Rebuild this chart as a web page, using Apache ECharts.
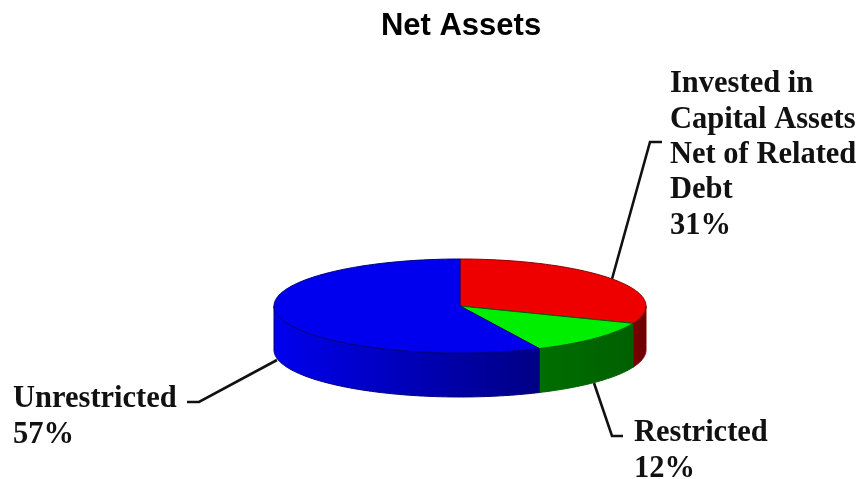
<!DOCTYPE html>
<html><head><meta charset="utf-8">
<style>html,body{margin:0;padding:0;background:#fff}#c{width:859px;height:479px}</style>
<script src="https://cdn.jsdelivr.net/npm/echarts@6/dist/echarts.min.js"></script>
</head><body><div id="c"></div>
<script>
const chartTitle = 'Net Assets';
const categories = ['Invested in\nCapital Assets\nNet of Related\nDebt', 'Restricted', 'Unrestricted'];
const shareValues = [31, 12, 57];

// styles and layout
const topColors = ['#ee0000', '#00ee00', '#0000ee'];
const sideStops = [['#7c0000', '#6a0000'], ['#006e00', '#006000'], ['#0000ee', '#000084']];
const edgeColors = ['#8a0000', '#006000', '#000080'];
const PIE = { cx: 460, cy: 306, rx: 186, ry: 47, depth: 44 };
const labelLayout = [
  { x: 670, base: 93, pitch: 35.3, leader: [[612, 279], [650, 142], [662, 142]] },
  { x: 634, base: 442, pitch: 36, leader: [[594, 383], [612, 436], [623, 436]] },
  { x: 13, base: 408, pitch: 35.5, leader: [[277, 360], [199, 402], [187, 402]] }
];

const total = shareValues.reduce((a, b) => a + b, 0);
const starts = [];
shareValues.reduce((acc, v, i) => { starts[i] = acc; return acc + v; }, 0);
const ang = v => v / total * Math.PI * 2;
const pt = (t, dy) => [PIE.cx + PIE.rx * Math.sin(t), PIE.cy - PIE.ry * Math.cos(t) + (dy || 0)];
function arc(a, b, dy) {
  const n = Math.max(2, Math.ceil((b - a) / 0.02)), out = [];
  for (let i = 0; i <= n; i++) out.push(pt(a + (b - a) * i / n, dy));
  return out;
}

function sideEl(i) {
  const a = Math.max(ang(starts[i]), Math.PI / 2);
  const b = Math.min(ang(starts[i] + shareValues[i]), Math.PI * 1.5);
  if (b <= a) return null;
  const upper = arc(a, b, 0), lower = arc(a, b, PIE.depth).reverse();
  const xs = upper.map(p => p[0]);
  const leftward = xs[0] > xs[xs.length - 1];
  const stops = sideStops[i];
  return {
    type: 'polygon', z2: 1,
    shape: { points: upper.concat(lower) },
    style: {
      fill: new echarts.graphic.LinearGradient(leftward ? 1 : 0, 0, leftward ? 0 : 1, 0,
        [{ offset: 0, color: leftward ? stops[1] : stops[0] }, { offset: 1, color: leftward ? stops[0] : stops[1] }]),
      stroke: edgeColors[i], lineWidth: 1
    }
  };
}
function topEl(i) {
  const a = ang(starts[i]), b = ang(starts[i] + shareValues[i]);
  return {
    type: 'polygon', z2: 2,
    shape: { points: [[PIE.cx, PIE.cy]].concat(arc(a, b, 0)) },
    style: { fill: topColors[i], stroke: edgeColors[i], lineWidth: 1 }
  };
}
function labelEls(i) {
  const L = labelLayout[i];
  const lines = categories[i].split('\n').concat(shareValues[i] + '%');
  const els = [{
    type: 'polyline', z2: 0,
    shape: { points: L.leader },
    style: { fill: 'none', stroke: '#111', lineWidth: 2.6 }
  }];
  lines.forEach((s, k) => els.push({
    type: 'text', z2: 3,
    style: {
      text: s, x: L.x, y: L.base + k * L.pitch + 7, align: 'left', verticalAlign: 'bottom',
      font: 'bold 30.5px "Liberation Serif"', fill: '#111'
    }
  }));
  return els;
}

const chart = echarts.init(document.getElementById('c'), null, { renderer: 'canvas' });
chart.setOption({
  animation: false,
  backgroundColor: '#fff',
  title: {
    text: chartTitle, left: 456, textAlign: 'center', top: 6,
    textStyle: { fontFamily: 'Liberation Sans', fontWeight: 'bold', fontSize: 31, color: '#000' }
  },
  series: [{
    type: 'custom',
    coordinateSystem: 'none',
    data: shareValues.map((v, i) => ({ value: [i, v], name: categories[i] })),
    renderItem: function (params, api) {
      const i = api.value(0);
      const kids = labelEls(i);
      const s = sideEl(i);
      if (s) kids.push(s);
      kids.push(topEl(i));
      return { type: 'group', children: kids };
    }
  }]
});
</script></body></html>
